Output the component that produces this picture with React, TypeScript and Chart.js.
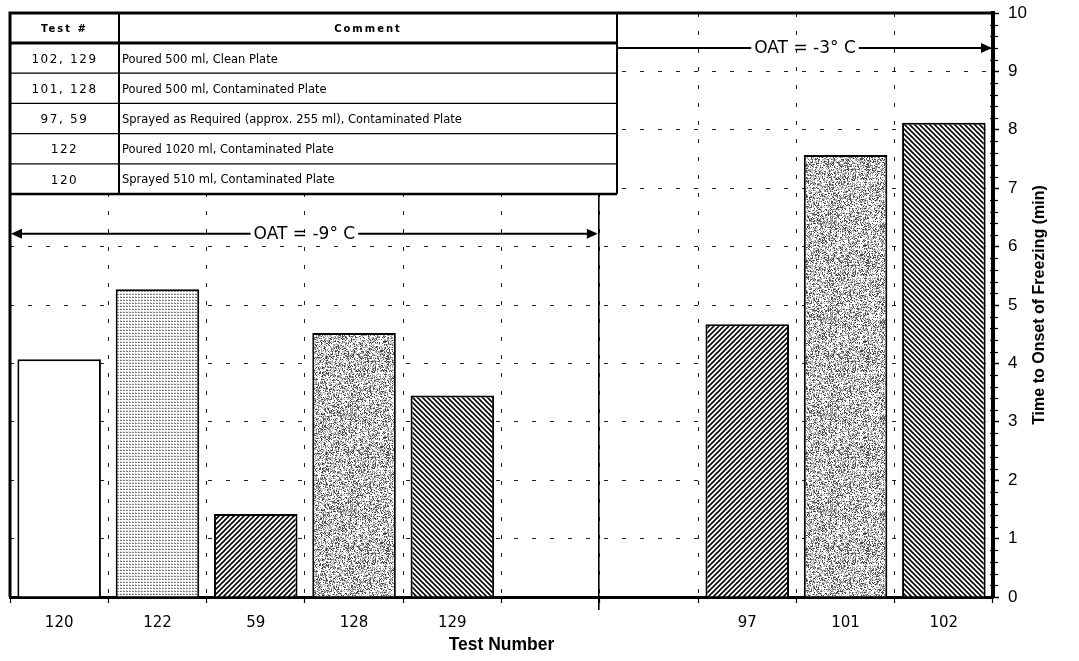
import React, { useEffect, useRef } from 'react';
import { Chart, registerables } from 'chart.js';

Chart.register(...registerables);

// ---- data ----
const testNumbers = ['120', '122', '59', '128', '129', '', '', '97', '101', '102'];
const onsetMinutes: (number | null)[] = [4.07, 5.27, 1.42, 4.52, 3.45, null, null, 4.67, 7.57, 8.12];
const yMin = 0;
const yMax = 10;
const yStep = 1;
const xTitle = 'Test Number';
const yTitle = 'Time to Onset of Freezing (min)';
const tableHeaders = ['Test #', 'Comment'];
const tableTests = ['102, 129', '101, 128', '97, 59', '122', '120'];
const tableComments = [
  'Poured 500 ml, Clean Plate',
  'Poured 500 ml, Contaminated Plate',
  'Sprayed as Required (approx. 255 ml), Contaminated Plate',
  'Poured 1020 ml, Contaminated Plate',
  'Sprayed 510 ml, Contaminated Plate',
];
const oatLabels = ['OAT = -9° C', 'OAT = -3° C'];
const oatLevels = [6.22, 9.4];
const breakAfter = 5.5; // boundary between the two OAT groups (category units)

// ---- styles ----
const rowFillKeys = ['back', 'speckle', 'fwd', 'dots', 'white'];
const TABLE = { width: 607, colWidth: 109, headerHeight: 30, rowHeight: 30.2 };

function hash(x: number, y: number) {
  let h = (x * 374761393 + y * 668265263) | 0;
  h = Math.imul(h ^ (h >>> 13), 1274126177);
  h ^= h >>> 16;
  return (h >>> 0) / 4294967296;
}

function makeTile(n: number, draw: (g: CanvasRenderingContext2D, n: number) => void) {
  const c = document.createElement('canvas');
  c.width = n;
  c.height = n;
  const g = c.getContext('2d')!;
  g.fillStyle = '#fff';
  g.fillRect(0, 0, n, n);
  draw(g, n);
  return c;
}

function makePatterns(ctx: CanvasRenderingContext2D): Record<string, CanvasPattern | string> {
  const fwd = makeTile(5, (g, n) => {
    g.strokeStyle = '#000';
    g.lineWidth = 1.6;
    g.beginPath();
    g.moveTo(0, n); g.lineTo(n, 0);
    g.moveTo(-1, 1); g.lineTo(1, -1);
    g.moveTo(n - 1, n + 1); g.lineTo(n + 1, n - 1);
    g.stroke();
  });
  const back = makeTile(5, (g, n) => {
    g.strokeStyle = '#000';
    g.lineWidth = 1.6;
    g.beginPath();
    g.moveTo(0, 0); g.lineTo(n, n);
    g.moveTo(-1, n - 1); g.lineTo(1, n + 1);
    g.moveTo(n - 1, -1); g.lineTo(n + 1, 1);
    g.stroke();
  });
  const dots = makeTile(3, (g) => {
    g.fillStyle = '#7a7a7a';
    g.fillRect(0, 0, 2, 1);
    g.fillStyle = '#c8c8c8';
    g.fillRect(0, 2, 1, 1);
  });
  const speckle = makeTile(96, (g, n) => {
    const img = g.getImageData(0, 0, n, n);
    for (let y = 0; y < n; y++) {
      for (let x = 0; x < n; x++) {
        const h = hash(x, y);
        const v = h < 0.5 ? 255 : h < 0.8 ? 165 : 75;
        const i = (y * n + x) * 4;
        img.data[i] = v; img.data[i + 1] = v; img.data[i + 2] = v; img.data[i + 3] = 255;
      }
    }
    g.putImageData(img, 0, 0);
  });
  return {
    fwd: ctx.createPattern(fwd, 'repeat')!,
    back: ctx.createPattern(back, 'repeat')!,
    dots: ctx.createPattern(dots, 'repeat')!,
    speckle: ctx.createPattern(speckle, 'repeat')!,
    white: '#ffffff',
  };
}

function fillKeyFor(label: string) {
  const r = tableTests.findIndex((t) => t.split(',').map((s) => s.trim()).includes(label));
  return r >= 0 ? rowFillKeys[r] : 'white';
}

function drawArrow(
  ctx: CanvasRenderingContext2D, x1: number, x2: number, y: number, label: string,
  leftHead: boolean, rightHead: boolean,
) {
  ctx.save();
  ctx.font = '17px "DejaVu Sans"';
  const tw = ctx.measureText(label).width;
  const cx = (x1 + x2) / 2;
  const gap = 3;
  const hl = 12;
  ctx.strokeStyle = '#000';
  ctx.fillStyle = '#000';
  ctx.lineWidth = 2;
  ctx.beginPath();
  ctx.moveTo(x1 + (leftHead ? hl - 1 : 0), y);
  ctx.lineTo(cx - tw / 2 - gap, y);
  ctx.moveTo(cx + tw / 2 + gap, y);
  ctx.lineTo(x2 - (rightHead ? hl - 1 : 0), y);
  ctx.stroke();
  if (leftHead) {
    ctx.beginPath();
    ctx.moveTo(x1 + 1, y);
    ctx.lineTo(x1 + hl, y - 5);
    ctx.lineTo(x1 + hl, y + 5);
    ctx.closePath();
    ctx.fill();
  }
  if (rightHead) {
    ctx.beginPath();
    ctx.moveTo(x2 - 1, y);
    ctx.lineTo(x2 - hl, y - 5);
    ctx.lineTo(x2 - hl, y + 5);
    ctx.closePath();
    ctx.fill();
  }
  ctx.textAlign = 'center';
  ctx.textBaseline = 'middle';
  ctx.fillText(label, cx, y + 1);
  ctx.restore();
}

const overlayPlugin = {
  id: 'overlay',
  afterDatasetsDraw(chart: any) {
    const { ctx, chartArea: ca, scales } = chart;
    const x = scales.x;
    const y = scales.y;
    // solid separator between the two groups
    const bx = x.getPixelForValue(breakAfter) - 1;
    ctx.save();
    ctx.strokeStyle = '#000';
    ctx.lineWidth = 1.6;
    ctx.beginPath();
    ctx.moveTo(bx, ca.top);
    ctx.lineTo(bx, ca.bottom + 13);
    ctx.stroke();
    ctx.restore();
    // OAT arrows
    drawArrow(ctx, ca.left, bx, y.getPixelForValue(oatLevels[0]), oatLabels[0], true, true);
    drawArrow(ctx, ca.left + TABLE.width, ca.right, y.getPixelForValue(oatLevels[1]), oatLabels[1], false, true);
  },
  afterDraw(chart: any) {
    const { ctx, chartArea: ca, scales } = chart;
    const y = scales.y;
    // ---- table ----
    const tl = ca.left;
    const tt = ca.top;
    const tr = tl + TABLE.width;
    const cx = tl + TABLE.colWidth;
    const hb = tt + TABLE.headerHeight;
    const tb = hb + TABLE.rowHeight * tableTests.length;
    ctx.save();
    ctx.fillStyle = '#fff';
    ctx.fillRect(tl, tt, TABLE.width, tb - tt);
    ctx.strokeStyle = '#000';
    // row separators
    ctx.lineWidth = 1.2;
    for (let i = 1; i < tableTests.length; i++) {
      const ry = hb + TABLE.rowHeight * i;
      ctx.beginPath();
      ctx.moveTo(tl, ry);
      ctx.lineTo(tr, ry);
      ctx.stroke();
    }
    // header bottom
    ctx.lineWidth = 3;
    ctx.beginPath();
    ctx.moveTo(tl, hb);
    ctx.lineTo(tr, hb);
    ctx.stroke();
    // column separator
    ctx.lineWidth = 2;
    ctx.beginPath();
    ctx.moveTo(cx, tt);
    ctx.lineTo(cx, tb);
    ctx.stroke();
    // outer right + bottom
    ctx.lineWidth = 2;
    ctx.beginPath();
    ctx.moveTo(tr, tt);
    ctx.lineTo(tr, tb);
    ctx.stroke();
    ctx.lineWidth = 2.5;
    ctx.beginPath();
    ctx.moveTo(tl, tb);
    ctx.lineTo(tr, tb);
    ctx.stroke();
    // header text
    ctx.fillStyle = '#000';
    ctx.textBaseline = 'middle';
    ctx.textAlign = 'center';
    ctx.font = 'bold 10px "DejaVu Sans"';
    (ctx as any).letterSpacing = '2px';
    ctx.fillText(tableHeaders[0], (tl + cx) / 2, tt + TABLE.headerHeight / 2 + 1);
    ctx.fillText(tableHeaders[1], (cx + tr) / 2, tt + TABLE.headerHeight / 2 + 1);
    // rows
    for (let i = 0; i < tableTests.length; i++) {
      const ry = hb + TABLE.rowHeight * (i + 0.5) + 1.5;
      ctx.textAlign = 'center';
      ctx.font = '12px "DejaVu Sans"';
      (ctx as any).letterSpacing = '1.6px';
      ctx.fillText(tableTests[i], (tl + cx) / 2, ry);
      ctx.textAlign = 'left';
      ctx.font = '11.5px "DejaVu Sans"';
      (ctx as any).letterSpacing = '0px';
      ctx.fillText(tableComments[i], cx + 3, ry);
    }
    (ctx as any).letterSpacing = '0px';
    ctx.restore();

    // ---- plot frame (top, left) ----
    ctx.save();
    ctx.strokeStyle = '#000';
    ctx.lineWidth = 3;
    ctx.beginPath();
    ctx.moveTo(ca.left, ca.bottom);
    ctx.lineTo(ca.left, ca.top);
    ctx.lineTo(ca.right, ca.top);
    ctx.stroke();
    // minor ticks on the right axis
    ctx.lineWidth = 1.2;
    const minorPerMajor = 5;
    const nMinor = ((yMax - yMin) / yStep) * minorPerMajor;
    for (let i = 0; i <= nMinor; i++) {
      if (i % minorPerMajor === 0) continue;
      const py = Math.round(y.getPixelForValue(yMin + (i * yStep) / minorPerMajor)) + 0.5;
      ctx.beginPath();
      ctx.moveTo(ca.right - 3, py);
      ctx.lineTo(ca.right + 5, py);
      ctx.stroke();
    }
    // right axis title (reads bottom to top)
    ctx.translate(1040, (ca.top + ca.bottom) / 2);
    ctx.rotate(-Math.PI / 2);
    ctx.fillStyle = '#000';
    ctx.font = 'bold 16px "Liberation Sans"';
    ctx.textAlign = 'center';
    ctx.textBaseline = 'middle';
    ctx.fillText(yTitle, 0, 0);
    ctx.restore();
  },
};

export default function App() {
  const ref = useRef<HTMLCanvasElement>(null);

  useEffect(() => {
    const canvas = ref.current!;
    const ctx = canvas.getContext('2d')!;
    const patterns = makePatterns(ctx);
    const fills = testNumbers.map((t) => patterns[fillKeyFor(t)]);
    const nCats = testNumbers.length;

    const chart = new Chart(canvas, {
      type: 'bar',
      data: {
        labels: testNumbers,
        datasets: [
          {
            data: onsetMinutes,
            backgroundColor: fills as any,
            borderColor: '#000',
            borderWidth: 2,
            barPercentage: 0.85,
            categoryPercentage: 1,
          },
        ],
      },
      options: {
        responsive: false,
        animation: false,
        devicePixelRatio: 1,
        layout: { padding: { left: 10, top: 13, right: 0, bottom: 0 } },
        plugins: { legend: { display: false }, tooltip: { enabled: false } },
        scales: {
          x: {
            type: 'category',
            offset: true,
            afterFit: (s: any) => { s.height = 64; },
            grid: {
              offset: true,
              color: (c: any) => (c.type === 'tick' && c.index > 0 && c.index < nCats ? '#222' : 'rgba(0,0,0,0)'),
              lineWidth: 1,
              drawTicks: true,
              tickLength: 6,
              tickColor: '#000',
              tickWidth: 1.2,
            },
            border: { display: true, color: '#000', width: 3, dash: [4, 14] },
            ticks: {
              autoSkip: false,
              maxRotation: 0,
              color: '#000',
              padding: 11,
              font: { family: '"DejaVu Sans"', size: 15 },
            },
            title: {
              display: true,
              text: xTitle,
              color: '#000',
              font: { family: '"Liberation Sans"', size: 17.5, weight: 'bold' },
              padding: { top: 0, bottom: 5 },
            },
          },
          y: {
            type: 'linear',
            position: 'right',
            min: yMin,
            max: yMax,
            afterFit: (s: any) => { s.width = 86; s.paddingTop = 0; s.paddingBottom = 0; },
            grid: {
              color: (c: any) => (c.tick && (c.tick.value === yMin || c.tick.value === yMax) ? 'rgba(0,0,0,0)' : '#222'),
              lineWidth: 1,
              drawTicks: true,
              tickLength: 6,
              tickColor: '#000',
              tickWidth: 1.5,
            },
            border: { display: true, color: '#000', width: 4, dash: [4, 14] },
            ticks: {
              stepSize: yStep,
              color: '#000',
              padding: 9,
              font: { family: '"Liberation Sans"', size: 17 },
            },
          },
        },
      } as any,
      plugins: [overlayPlugin],
    });
    return () => chart.destroy();
  }, []);

  return (
    <div style={{ position: 'absolute', left: 0, top: 0, width: 1079, height: 661, background: '#fff' }}>
      <canvas ref={ref} width={1079} height={661} style={{ display: 'block' }} />
    </div>
  );
}
